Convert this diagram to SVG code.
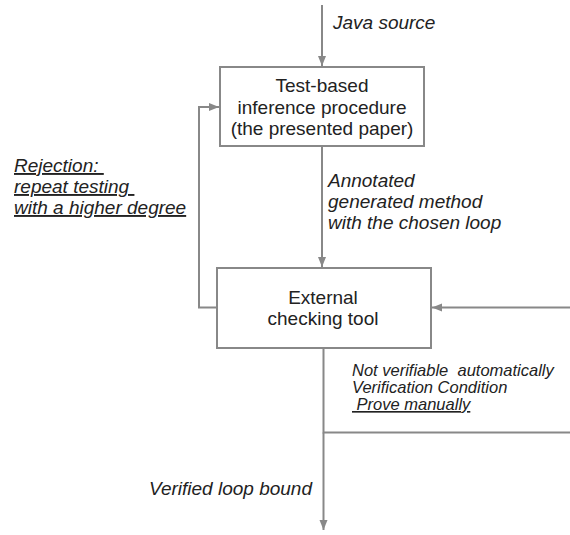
<svg xmlns="http://www.w3.org/2000/svg" width="570" height="535" viewBox="0 0 570 535">
<style>
.box{fill:#fff;stroke:#888;stroke-width:2}
.ln{fill:none;stroke:#888;stroke-width:2}
.t{font-family:"Liberation Sans",Arial,sans-serif;font-size:19px;fill:#222}
.c{text-anchor:middle}
.i{font-style:italic}
.s{font-size:16.5px}
.u{text-decoration:underline}
</style>
<defs>
<marker id="ah" viewBox="0 0 10 10" refX="10" refY="5" markerWidth="10" markerHeight="10" markerUnits="userSpaceOnUse" orient="auto">
<path d="M0,1 L10,5 L0,9 Z" fill="#888"/>
</marker>
</defs>
<g id="connectors">
<path class="ln" d="M322,5 V66" marker-end="url(#ah)"/>
<path class="ln" d="M322,147 V267" marker-end="url(#ah)"/>
<path class="ln" d="M217,307.5 H199 V107 H219" marker-end="url(#ah)"/>
<path class="ln" d="M570,307.5 H432" marker-end="url(#ah)"/>
<path class="ln" d="M323.5,348 V432.5 H570"/>
<path class="ln" d="M323.5,432.5 V530" marker-end="url(#ah)"/>
</g>
<g id="labels">
<text class="t i" x="333" y="29">Java source</text>
<text class="t i" x="328" y="187">Annotated</text>
<text class="t i" x="328" y="208">generated method</text>
<text class="t i" x="328" y="229">with the chosen loop</text>
<text class="t i u" x="14" y="172" xml:space="preserve">Rejection: </text>
<text class="t i u" x="14" y="193" xml:space="preserve">repeat testing </text>
<text class="t i u" x="14" y="214">with a higher degree</text>
<text class="t i s" x="352" y="376" xml:space="preserve">Not verifiable  automatically</text>
<text class="t i s" x="352" y="393">Verification Condition</text>
<text class="t i s u" x="352" y="410" xml:space="preserve"> Prove manually</text>
<text class="t i" x="312" y="495" text-anchor="end">Verified loop bound</text>
</g>
<g id="node-inference">
<rect class="box" x="220" y="67" width="204" height="79"/>
<text class="t c" x="322" y="92">Test-based</text>
<text class="t c" x="322" y="114">inference procedure</text>
<text class="t c" x="322" y="135">(the presented paper)</text>
</g>
<g id="node-checking">
<rect class="box" x="217" y="268" width="214" height="80"/>
<text class="t c" x="323" y="304">External</text>
<text class="t c" x="323" y="325">checking tool</text>
</g>
</svg>
